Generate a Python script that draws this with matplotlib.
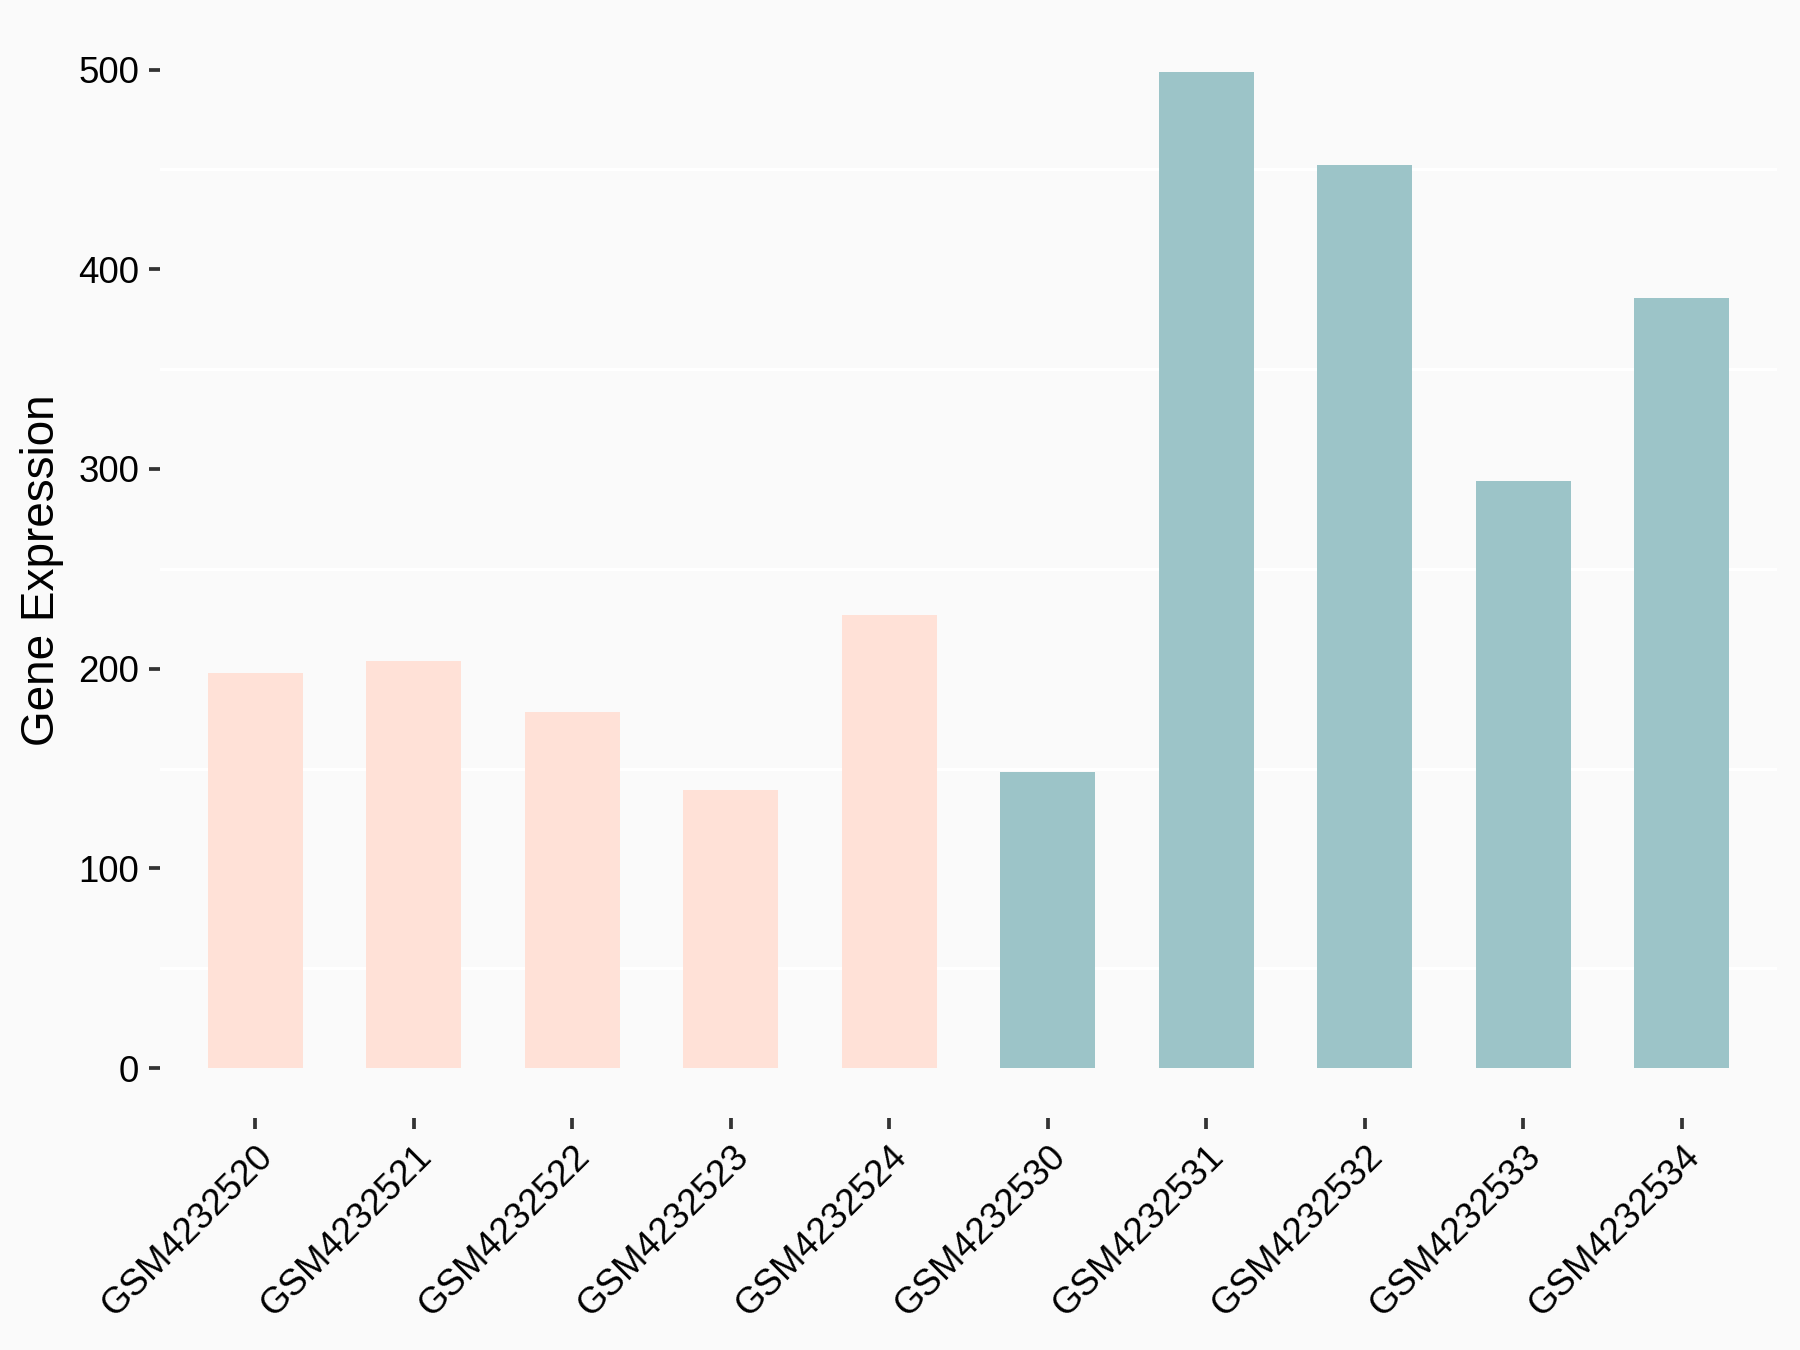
import matplotlib
matplotlib.use("Agg")
import matplotlib.pyplot as plt
import matplotlib.transforms as mtransforms
import numpy as np

samples = ["GSM4232520", "GSM4232521", "GSM4232522", "GSM4232523", "GSM4232524",
           "GSM4232530", "GSM4232531", "GSM4232532", "GSM4232533", "GSM4232534"]
values = [198, 204, 178.5, 139, 227, 148.5, 499, 452, 294, 385.5]
groups = ["A", "A", "A", "A", "A", "B", "B", "B", "B", "B"]
group_colors = {"A": "#FFE1D7", "B": "#9CC4C8"}
yticks = [0, 100, 200, 300, 400, 500]
minor_grid = [50, 150, 250, 350, 450]

plt.rcParams['font.family'] = ['Liberation Sans', 'DejaVu Sans']

fig = plt.figure(figsize=(6, 4.5), dpi=300)
fig.patch.set_facecolor("#FAFAFA")
ax = fig.add_axes([160/1800, 1 - 1118/1350, (1777-160)/1800, (1118-21.6)/1350])
ax.set_facecolor("#FAFAFA")

x = np.arange(len(samples))
ax.bar(x, values, width=0.6, color=[group_colors[g] for g in groups], zorder=2)

for g in minor_grid:
    ax.axhline(g, color="white", lw=0.8, zorder=1)

ax.set_xlim(-0.6, len(samples) - 0.4)
ax.set_ylim(-25, 524)
ax.set_yticks(yticks)
ax.set_yticklabels([str(v) for v in yticks], fontsize=8.8, color="black")
ax.set_xticks(x)
ax.set_xticklabels(samples, fontsize=8.8, color="black", rotation=45,
                   ha="right", va="top", rotation_mode="anchor")
offset = mtransforms.ScaledTranslation(4/72, -1/72, fig.dpi_scale_trans)
for lab in ax.get_xticklabels():
    lab.set_transform(lab.get_transform() + offset)

ax.tick_params(axis="both", length=2.75, width=0.9, color="#333333", pad=2.2)
for s in ax.spines.values():
    s.set_visible(False)

ax.set_ylabel("Gene Expression", fontsize=11, color="black", labelpad=3.5)

fig.savefig("out.png", dpi=300, facecolor=fig.get_facecolor())
